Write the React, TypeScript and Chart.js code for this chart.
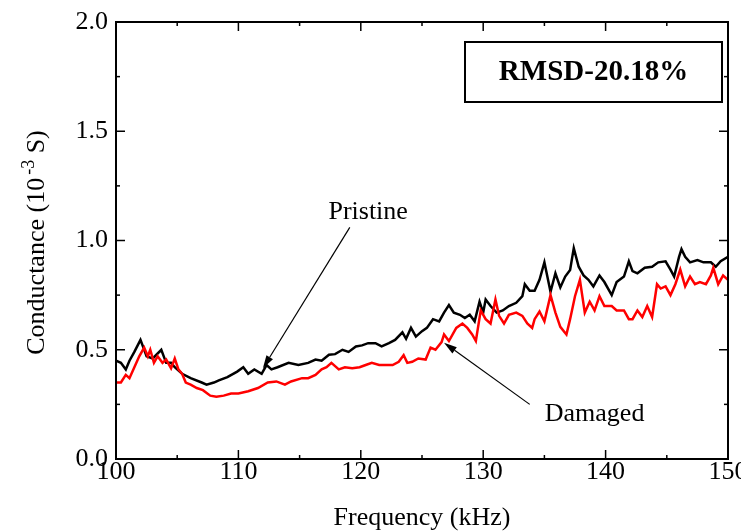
import React, { useEffect, useRef } from "react";
import { Chart, registerables } from "chart.js";

Chart.register(...registerables);

// ---- Data ----
const pristineFreq = [100.0,100.4,100.8,101.1,101.5,102.0,102.5,103.0,103.7,104.1,104.5,104.8,105.4,106.1,107.0,107.4,108.0,108.4,109.1,109.9,110.4,110.8,111.3,111.9,112.3,112.7,113.2,114.1,114.9,115.7,116.3,116.8,117.4,117.9,118.5,119.0,119.6,120.1,120.6,121.2,121.7,122.3,122.8,123.4,123.7,124.1,124.5,125.0,125.4,125.9,126.4,126.8,127.2,127.6,128.1,128.5,128.9,129.3,129.7,130.0,130.2,130.6,131.1,131.6,132.1,132.7,133.2,133.4,133.8,134.2,134.6,135.0,135.5,135.9,136.3,136.7,137.1,137.4,137.8,138.2,138.6,139.0,139.5,139.9,140.5,140.9,141.5,141.9,142.2,142.6,143.2,143.8,144.3,144.9,145.3,145.6,146.0,146.2,146.5,146.9,147.5,148.0,148.6,149.0,149.4,150.0];
const pristineG = [0.45,0.44,0.41,0.45,0.49,0.545,0.47,0.46,0.50,0.44,0.44,0.42,0.39,0.37,0.35,0.34,0.35,0.36,0.375,0.40,0.42,0.39,0.41,0.39,0.43,0.41,0.42,0.44,0.43,0.44,0.455,0.45,0.477,0.48,0.50,0.49,0.515,0.52,0.53,0.53,0.515,0.53,0.545,0.58,0.55,0.60,0.56,0.585,0.60,0.64,0.63,0.67,0.705,0.67,0.66,0.645,0.66,0.63,0.72,0.67,0.73,0.70,0.67,0.68,0.70,0.715,0.745,0.80,0.77,0.77,0.82,0.90,0.765,0.85,0.785,0.835,0.865,0.965,0.88,0.84,0.82,0.79,0.84,0.81,0.75,0.81,0.835,0.905,0.86,0.85,0.875,0.88,0.90,0.905,0.867,0.835,0.925,0.96,0.925,0.90,0.91,0.90,0.90,0.88,0.905,0.925];

const damagedFreq = [100.0,100.4,100.8,101.1,101.5,101.9,102.3,102.6,102.8,103.1,103.4,103.8,104.1,104.5,104.8,105.1,105.4,105.7,106.1,106.6,107.1,107.7,108.2,108.8,109.4,110.0,110.8,111.6,112.4,113.1,113.8,114.3,115.2,115.7,116.3,116.8,117.2,117.6,118.2,118.7,119.3,119.9,120.4,120.9,121.5,122.0,122.6,123.1,123.5,123.8,124.2,124.7,125.3,125.7,126.1,126.6,126.8,127.2,127.8,128.3,128.7,129.1,129.4,129.8,130.2,130.6,131.0,131.3,131.7,132.1,132.7,133.2,133.6,134.0,134.2,134.6,135.0,135.5,135.9,136.3,136.8,137.1,137.5,137.9,138.3,138.7,139.1,139.5,139.9,140.5,140.9,141.5,141.9,142.2,142.6,143.0,143.4,143.8,144.2,144.5,144.9,145.3,145.7,146.1,146.5,146.9,147.3,147.7,148.2,148.6,148.8,149.2,149.6,150.0];
const damagedG = [0.35,0.35,0.385,0.37,0.42,0.47,0.51,0.47,0.50,0.44,0.47,0.44,0.455,0.415,0.46,0.41,0.39,0.35,0.34,0.325,0.315,0.29,0.285,0.29,0.30,0.30,0.31,0.325,0.35,0.355,0.34,0.355,0.37,0.37,0.385,0.41,0.42,0.44,0.41,0.42,0.415,0.42,0.43,0.44,0.43,0.43,0.43,0.445,0.475,0.44,0.445,0.46,0.455,0.51,0.50,0.535,0.57,0.54,0.60,0.62,0.60,0.57,0.54,0.68,0.64,0.62,0.73,0.655,0.62,0.66,0.67,0.655,0.62,0.60,0.64,0.675,0.63,0.75,0.67,0.605,0.57,0.64,0.745,0.82,0.67,0.72,0.68,0.745,0.70,0.70,0.68,0.68,0.64,0.64,0.68,0.65,0.70,0.65,0.80,0.78,0.79,0.75,0.80,0.867,0.79,0.835,0.80,0.81,0.80,0.84,0.875,0.80,0.84,0.82];

const xMin = 100;
const xMax = 150;
const xStep = 10;
const yMin = 0;
const yMax = 2;
const yStep = 0.5;

const rmsdLabel = "RMSD-20.18%";
const pristineLabel = "Pristine";
const damagedLabel = "Damaged";
const xTitle = "Frequency (kHz)";
const yTitleMain = "Conductance (10";
const yTitleSup = "-3";
const yTitleEnd = " S)";

// annotation anchors in data coordinates [freq, value]
const pristineText = [120.6, 1.13];
const pristineArrowFrom = [119.1, 1.06];
const pristineArrowTo = [112.0, 0.415];
const damagedText = [139.1, 0.205];
const damagedArrowFrom = [133.8, 0.25];
const damagedArrowTo = [126.8, 0.532];

const FONT = '"Liberation Serif", "Times New Roman", Times, serif';

function drawArrow(ctx: CanvasRenderingContext2D, x1: number, y1: number, x2: number, y2: number) {
  const ang = Math.atan2(y2 - y1, x2 - x1);
  const headLen = 13;
  const headW = 3.8;
  const bx = x2 - headLen * Math.cos(ang);
  const by = y2 - headLen * Math.sin(ang);
  ctx.beginPath();
  ctx.moveTo(x1, y1);
  ctx.lineTo(bx, by);
  ctx.lineWidth = 1.2;
  ctx.stroke();
  ctx.beginPath();
  ctx.moveTo(x2, y2);
  ctx.lineTo(bx + headW * Math.sin(ang), by - headW * Math.cos(ang));
  ctx.lineTo(bx - headW * Math.sin(ang), by + headW * Math.cos(ang));
  ctx.closePath();
  ctx.fill();
}

const decorPlugin = {
  id: "decor",
  afterDraw(chart: any) {
    const { ctx, chartArea: a, scales } = chart;
    const xs = scales.x;
    const ys = scales.y;
    ctx.save();
    ctx.strokeStyle = "#000";
    ctx.fillStyle = "#000";
    // frame
    ctx.lineWidth = 2;
    ctx.strokeRect(a.left, a.top, a.right - a.left, a.bottom - a.top);
    // ticks (inward)
    ctx.lineWidth = 1.5;
    const seg = (x1: number, y1: number, x2: number, y2: number) => {
      ctx.beginPath();
      ctx.moveTo(x1, y1);
      ctx.lineTo(x2, y2);
      ctx.stroke();
    };
    for (let v = xMin; v <= xMax + 1e-9; v += xStep / 2) {
      const px = xs.getPixelForValue(v);
      const major = Math.abs((v - xMin) % xStep) < 1e-6;
      const len = major ? 9 : 4;
      seg(px, a.bottom, px, a.bottom - len);
      seg(px, a.top, px, a.top + len);
    }
    for (let v = yMin; v <= yMax + 1e-9; v += yStep / 2) {
      const py = ys.getPixelForValue(v);
      const major = Math.abs((v / yStep) - Math.round(v / yStep)) < 1e-6;
      const len = major ? 9 : 4;
      seg(a.left, py, a.left + len, py);
      seg(a.right, py, a.right - len, py);
    }

    // RMSD box
    const bw = 257, bh = 60;
    const bx = a.right - 263, by = a.top + 20;
    ctx.lineWidth = 2;
    ctx.strokeRect(bx, by, bw, bh);
    ctx.font = `bold 29px ${FONT}`;
    ctx.textAlign = "center";
    ctx.textBaseline = "middle";
    ctx.fillText(rmsdLabel, bx + bw / 2, by + bh / 2 + 1);

    // annotations
    ctx.font = `26px ${FONT}`;
    ctx.textBaseline = "middle";
    ctx.fillText(pristineLabel, xs.getPixelForValue(pristineText[0]), ys.getPixelForValue(pristineText[1]));
    ctx.fillText(damagedLabel, xs.getPixelForValue(damagedText[0]), ys.getPixelForValue(damagedText[1]));
    drawArrow(ctx,
      xs.getPixelForValue(pristineArrowFrom[0]), ys.getPixelForValue(pristineArrowFrom[1]),
      xs.getPixelForValue(pristineArrowTo[0]), ys.getPixelForValue(pristineArrowTo[1]));
    drawArrow(ctx,
      xs.getPixelForValue(damagedArrowFrom[0]), ys.getPixelForValue(damagedArrowFrom[1]),
      xs.getPixelForValue(damagedArrowTo[0]), ys.getPixelForValue(damagedArrowTo[1]));

    // x title
    ctx.font = `26px ${FONT}`;
    ctx.textAlign = "center";
    ctx.textBaseline = "alphabetic";
    ctx.fillText(xTitle, (a.left + a.right) / 2, 525);

    // y title with superscript
    ctx.save();
    ctx.translate(44, (a.top + a.bottom) / 2 + 2);
    ctx.rotate(-Math.PI / 2);
    ctx.textAlign = "left";
    ctx.textBaseline = "alphabetic";
    const mainFont = `26px ${FONT}`;
    const supFont = `18px ${FONT}`;
    ctx.font = mainFont;
    const w1 = ctx.measureText(yTitleMain).width;
    const w3 = ctx.measureText(yTitleEnd).width;
    ctx.font = supFont;
    const w2 = ctx.measureText(yTitleSup).width + 3;
    const total = w1 + w2 + w3;
    let cx = -total / 2;
    ctx.font = mainFont;
    ctx.fillText(yTitleMain, cx, 0);
    cx += w1 + 3;
    ctx.font = supFont;
    ctx.fillText(yTitleSup, cx, -10);
    cx += w2 - 3;
    ctx.font = mainFont;
    ctx.fillText(yTitleEnd, cx, 0);
    ctx.restore();

    ctx.restore();
  },
};

export default function App() {
  const ref = useRef<HTMLCanvasElement | null>(null);
  useEffect(() => {
    document.body.style.margin = "0";
    const canvas = ref.current;
    if (!canvas) return;
    const chart = new Chart(canvas, {
      type: "line",
      data: {
        datasets: [
          {
            label: "Damaged",
            data: damagedFreq.map((f, i) => ({ x: f, y: damagedG[i] })),
            borderColor: "#ff0000",
            borderWidth: 2.5,
            pointRadius: 0,
            tension: 0,
            order: 1,
          },
          {
            label: "Pristine",
            data: pristineFreq.map((f, i) => ({ x: f, y: pristineG[i] })),
            borderColor: "#000000",
            borderWidth: 2.5,
            pointRadius: 0,
            tension: 0,
            order: 2,
          },
        ],
      },
      options: {
        animation: false,
        responsive: false,
        devicePixelRatio: 1,
        layout: { padding: { top: 22, right: 13, left: 0, bottom: 0 } },
        plugins: {
          legend: { display: false },
          tooltip: { enabled: false },
        },
        scales: {
          x: {
            type: "linear",
            min: xMin,
            max: xMax,
            border: { display: false },
            grid: { display: false, drawTicks: false },
            ticks: {
              stepSize: xStep,
              autoSkip: false,
              maxRotation: 0,
              padding: -2,
              color: "#000",
              font: { family: FONT, size: 26 },
            },
            afterFit: (s: any) => {
              s.height = 73;
              s.paddingLeft = 0;
              s.paddingRight = 0;
            },
          },
          y: {
            type: "linear",
            min: yMin,
            max: yMax,
            border: { display: false },
            grid: { display: false, drawTicks: false },
            ticks: {
              stepSize: yStep,
              padding: 8,
              color: "#000",
              font: { family: FONT, size: 26 },
              callback: (v: any) => Number(v).toFixed(1),
            },
            afterFit: (s: any) => {
              s.width = 116;
              s.paddingTop = 0;
              s.paddingBottom = 0;
            },
          },
        },
      },
      plugins: [decorPlugin],
    });
    return () => chart.destroy();
  }, []);
  return <canvas ref={ref} width={741} height={532} style={{ display: "block" }} />;
}
